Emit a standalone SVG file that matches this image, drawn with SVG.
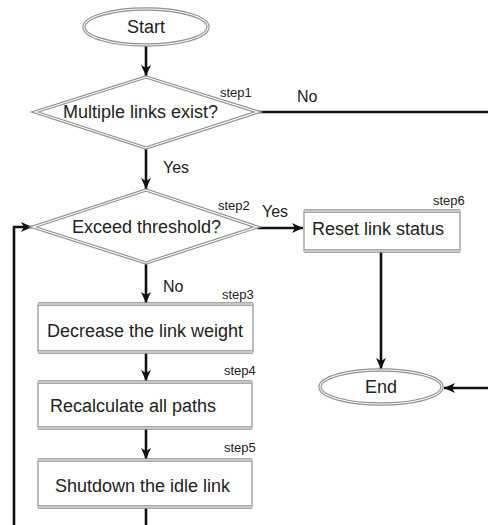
<svg xmlns="http://www.w3.org/2000/svg" width="488" height="525" viewBox="0 0 488 525">
  <style>
    .outer { fill: #ffffff; stroke: #8f8f8f; stroke-width: 3.4; }
    .inner { fill: none; stroke: #ffffff; stroke-width: 1.1; }
    .box { fill: #ffffff; stroke: #8f8f8f; stroke-width: 1.2; }
    .edge { fill: none; stroke: #8f8f8f; stroke-width: 3.4; }
    .edge-in { fill: none; stroke: #ffffff; stroke-width: 1.1; }
    .label { font-family: "Liberation Sans", Arial, sans-serif; font-size: 18px; fill: #222; }
    .step { font-family: "Liberation Sans", Arial, sans-serif; font-size: 13px; fill: #222; }
    .branch { font-family: "Liberation Sans", Arial, sans-serif; font-size: 16px; fill: #222; }
    .conn { fill: none; stroke: #111; stroke-width: 2.6; }
  </style>
  <defs>
    <marker id="arrow" markerUnits="userSpaceOnUse" markerWidth="12" markerHeight="10" refX="11" refY="5" orient="auto">
      <path d="M0,0 L11,5 L0,10 L3,5 z" fill="#111"/>
    </marker>
  </defs>

  <rect width="488" height="525" fill="#ffffff"/>

  <!-- connectors -->
  <g id="connectors">
    <line class="conn" x1="146" y1="45" x2="146" y2="76" marker-end="url(#arrow)"/>
    <line class="conn" x1="146" y1="148" x2="146" y2="189" marker-end="url(#arrow)"/>
    <line class="conn" x1="258" y1="112" x2="492" y2="112" stroke-width="3.2"/>
    <line class="conn" x1="257" y1="228" x2="303" y2="228" stroke-width="3.2" marker-end="url(#arrow)"/>
    <line class="conn" x1="381" y1="251" x2="381" y2="369" marker-end="url(#arrow)"/>
    <line class="conn" x1="146" y1="263" x2="146" y2="303" marker-end="url(#arrow)"/>
    <line class="conn" x1="146" y1="352" x2="146" y2="381" marker-end="url(#arrow)"/>
    <line class="conn" x1="146" y1="428" x2="146" y2="459" marker-end="url(#arrow)"/>
    <line class="conn" x1="146" y1="507" x2="146" y2="530"/>
    <polyline class="conn" points="14,530 14,227 32,227" marker-end="url(#arrow)"/>
    <line class="conn" x1="492" y1="388" x2="444" y2="388" stroke-width="3.2" marker-end="url(#arrow)"/>
    <text class="branch" x="163" y="173">Yes</text>
    <text class="branch" x="297" y="102">No</text>
    <text class="branch" x="262" y="217">Yes</text>
    <text class="branch" x="163" y="292">No</text>
  </g>

  <!-- start terminal -->
  <g id="start">
    <ellipse class="outer" cx="146" cy="27" rx="62" ry="18"/>
    <ellipse class="inner" cx="146" cy="27" rx="62" ry="18"/>
    <text class="label" x="146" y="33" text-anchor="middle">Start</text>
  </g>

  <!-- step1 decision -->
  <g id="step1">
    <polygon class="outer" points="146,77 258,112 146,148 35,112"/>
    <polygon class="inner" points="146,77 258,112 146,148 35,112"/>
    <text class="label" x="63" y="118">Multiple links exist?</text>
    <text class="step" x="220" y="97">step1</text>
  </g>

  <!-- step2 decision -->
  <g id="step2">
    <polygon class="outer" points="146,190 257,227 146,263 33,227"/>
    <polygon class="inner" points="146,190 257,227 146,263 33,227"/>
    <text class="label" x="72" y="233">Exceed threshold?</text>
    <text class="step" x="218" y="210">step2</text>
  </g>

  <!-- step6 process -->
  <g id="step6">
    <rect class="box" x="304" y="211" width="156" height="40"/>
    <path class="edge" d="M304,211 H460 M304,251 H460"/>
    <path class="edge-in" d="M304,211 H460 M304,251 H460"/>
    <text class="label" x="312" y="235">Reset link status</text>
    <text class="step" x="433" y="205">step6</text>
  </g>

  <!-- step3 process -->
  <g id="step3">
    <rect class="box" x="38" y="304" width="215" height="48"/>
    <path class="edge" d="M38,304 H253 M38,352 H253"/>
    <path class="edge-in" d="M38,304 H253 M38,352 H253"/>
    <text class="label" x="47" y="337">Decrease the link weight</text>
    <text class="step" x="222" y="299">step3</text>
  </g>

  <!-- step4 process -->
  <g id="step4">
    <rect class="box" x="38" y="382" width="214" height="46"/>
    <path class="edge" d="M38,382 H252 M38,428 H252"/>
    <path class="edge-in" d="M38,382 H252 M38,428 H252"/>
    <text class="label" x="50" y="412">Recalculate all paths</text>
    <text class="step" x="224" y="375">step4</text>
  </g>

  <!-- step5 process -->
  <g id="step5">
    <rect class="box" x="38" y="460" width="214" height="47"/>
    <path class="edge" d="M38,460 H252 M38,507 H252"/>
    <path class="edge-in" d="M38,460 H252 M38,507 H252"/>
    <text class="label" x="55" y="492">Shutdown the idle link</text>
    <text class="step" x="224" y="452">step5</text>
  </g>

  <!-- end terminal -->
  <g id="end">
    <ellipse class="outer" cx="381" cy="387" rx="61" ry="17"/>
    <ellipse class="inner" cx="381" cy="387" rx="61" ry="17"/>
    <text class="label" x="381" y="393" text-anchor="middle">End</text>
  </g>
</svg>
